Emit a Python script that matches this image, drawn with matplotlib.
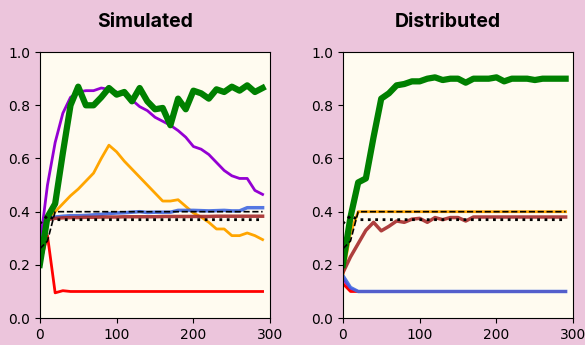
import numpy as np
import matplotlib.pyplot as plt

steps = np.arange(0, 300, 10)

# Simulated panel
sim_green = [0.2, 0.38, 0.43, 0.62, 0.80, 0.87, 0.80, 0.80, 0.83, 0.865,
             0.84, 0.85, 0.815, 0.865, 0.815, 0.785, 0.79, 0.725, 0.825, 0.785,
             0.855, 0.845, 0.825, 0.86, 0.85, 0.87, 0.855, 0.875, 0.85, 0.865]
sim_purple = [0.27, 0.5, 0.66, 0.77, 0.83, 0.85, 0.855, 0.855, 0.865, 0.86,
              0.85, 0.84, 0.82, 0.795, 0.78, 0.755, 0.74, 0.725, 0.705, 0.68,
              0.645, 0.635, 0.615, 0.585, 0.555, 0.535, 0.525, 0.525, 0.48, 0.465]
sim_orange = [0.27, 0.37, 0.40, 0.43, 0.46, 0.485, 0.515, 0.545, 0.6, 0.65,
              0.625, 0.59, 0.56, 0.53, 0.5, 0.47, 0.44, 0.44, 0.445, 0.42,
              0.395, 0.38, 0.36, 0.335, 0.335, 0.31, 0.31, 0.32, 0.31, 0.295]
sim_blue = [0.27, 0.375, 0.38, 0.383, 0.385, 0.385, 0.386, 0.388, 0.39, 0.393,
            0.395, 0.396, 0.398, 0.4, 0.397, 0.398, 0.398, 0.398, 0.405, 0.405,
            0.405, 0.404, 0.403, 0.404, 0.405, 0.403, 0.403, 0.415, 0.415, 0.415]
sim_brown = [0.2, 0.37, 0.375, 0.377, 0.378, 0.378, 0.379, 0.379, 0.38, 0.38,
             0.38, 0.381, 0.381, 0.381, 0.381, 0.381, 0.382, 0.382, 0.382, 0.382,
             0.382, 0.382, 0.382, 0.383, 0.383, 0.383, 0.383, 0.383, 0.383, 0.383]
sim_red = [0.2, 0.31, 0.095, 0.103, 0.1, 0.1, 0.1, 0.1, 0.1, 0.1,
           0.1, 0.1, 0.1, 0.1, 0.1, 0.1, 0.1, 0.1, 0.1, 0.1,
           0.1, 0.1, 0.1, 0.1, 0.1, 0.1, 0.1, 0.1, 0.1, 0.1]

# Distributed panel
dist_green = [0.2, 0.38, 0.51, 0.525, 0.68, 0.825, 0.845, 0.875, 0.88, 0.89,
              0.89, 0.9, 0.905, 0.895, 0.9, 0.9, 0.885, 0.9, 0.9, 0.9,
              0.905, 0.89, 0.9, 0.9, 0.9, 0.895, 0.9, 0.9, 0.9, 0.9]
dist_brown = [0.17, 0.23, 0.28, 0.33, 0.36, 0.328, 0.345, 0.365, 0.36, 0.372,
              0.375, 0.36, 0.378, 0.37, 0.378, 0.378, 0.365, 0.38, 0.38, 0.38,
              0.38, 0.38, 0.38, 0.38, 0.38, 0.38, 0.38, 0.38, 0.38, 0.38]
dist_orange = [0.16, 0.32] + [0.4] * 28
dist_purple = [0.15, 0.11] + [0.1] * 28
dist_blue = [0.16, 0.115] + [0.1] * 28
dist_red = [0.13, 0.1] + [0.1] * 28

# reference levels
ref_dashed = [0.26, 0.29] + [0.4] * 28
ref_dotted = [0.355, 0.385] + [0.37] * 28

panels = [
    ("Simulated", sim_purple, sim_orange, sim_blue, sim_brown, sim_red, sim_green),
    ("Distributed", dist_purple, dist_orange, dist_blue, dist_brown, dist_red, dist_green),
]

fig = plt.figure(figsize=(5.85, 3.45), dpi=100, facecolor="#ecc5dc")
positions = [[0.068, 0.078, 0.394, 0.771], [0.586, 0.078, 0.394, 0.771]]

for pos, (title, purple, orange, blue, brown, red, green) in zip(positions, panels):
    ax = fig.add_axes(pos)
    ax.set_facecolor("#fffbf0")
    ax.plot(steps, purple, color="darkviolet", lw=2)
    ax.plot(steps, orange, color="orange", lw=2)
    ax.plot(steps, red, color="red", lw=2)
    ax.plot(steps, blue, color="royalblue", lw=2.5, alpha=0.9)
    ax.plot(steps, brown, color="brown", lw=2.5, alpha=0.9)
    ax.plot(steps, green, color="green", lw=4.5)
    ax.plot(steps, ref_dashed, color="black", lw=1.2, ls="--")
    ax.plot(steps, ref_dotted, color="black", lw=2, ls=":")
    ax.set_xlim(0, 300)
    ax.set_ylim(0, 1)
    ax.set_xticks([0, 100, 200, 300])
    ax.set_yticks([0, 0.2, 0.4, 0.6, 0.8, 1.0])
    ax.tick_params(labelsize=10)
    ax.set_title(title, fontsize=14, fontweight="bold", family="Inter", pad=18, x=0.455)

fig.savefig("out.png", dpi=100, facecolor=fig.get_facecolor())
